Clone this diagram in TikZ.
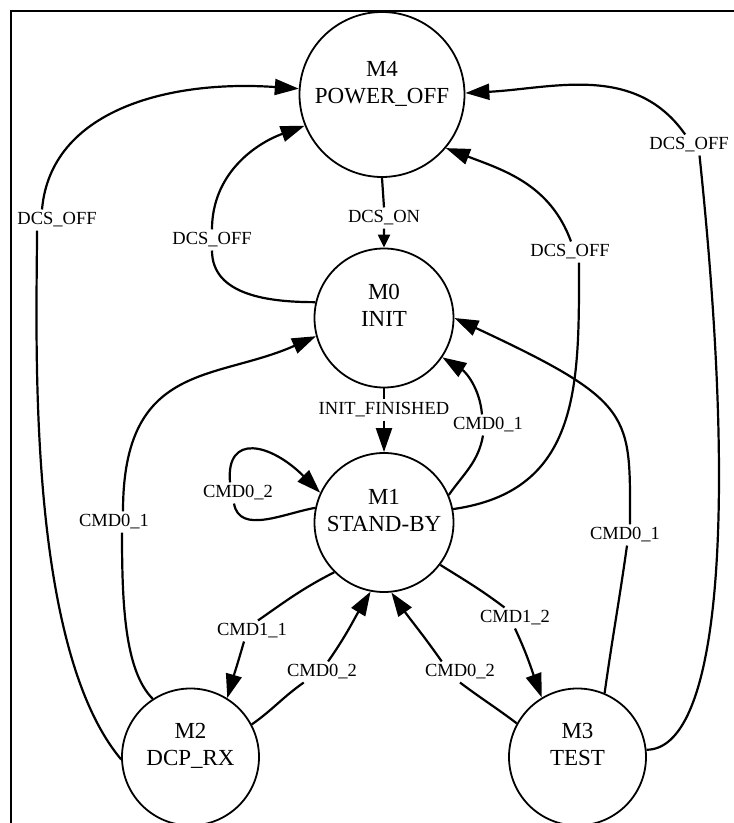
\documentclass[tikz,border=0pt]{standalone}
\usepackage{fontspec}
\setmainfont{Liberation Serif}
\usetikzlibrary{arrows.meta}
\newcommand{\modename}[2]{\raisebox{0pt}[40pt][22pt]{\begin{tabular}[b]{@{}c@{}}#1\\#2\end{tabular}}}

\begin{document}
\begin{tikzpicture}[x=1pt,y=1pt,
  mode/.style={circle,draw,line width=1.8pt,minimum size=139pt,inner sep=0pt,font=\fontsize{23}{27}\selectfont},
  trans/.style={inner sep=3pt,font=\fontsize{18.5}{22}\selectfont},
  edge/.style={line width=2.2pt,-{Triangle[length=24pt,width=16pt]}}]
\useasboundingbox (0,0) rectangle (734,823);

% Frame
\draw[line width=1.8pt] (11,0) -- (11,812) -- (734,812);

% Modes
\node[mode,minimum size=165pt] (m4) at (382,728.5) {\modename{M4}{POWER\_OFF}};
\node[mode] (m0) at (384,505) {\modename{M0}{INIT}};
\node[mode] (m1) at (384,300.5) {\modename{M1}{STAND-BY}};
\node[mode,minimum size=137pt] (m2) at (190.5,66) {\modename{M2}{DCP\_RX}};
\node[mode,minimum size=137pt] (m3) at (577.5,66) {\modename{M3}{TEST}};

% Transition labels
\node[trans] (dcson) at (384,605) {DCS\_ON};
\node[trans] (initfin) at (384,413) {INIT\_FINISHED};
\node[trans] (offa) at (212,583) {DCS\_OFF};
\node[trans] (offb) at (57,603) {DCS\_OFF};
\node[trans] (offc) at (570,571) {DCS\_OFF};
\node[trans] (offd) at (689,678) {DCS\_OFF};
\node[trans] (c01a) at (114,301) {CMD0\_1};
\node[trans] (c02s) at (238,330) {CMD0\_2};
\node[trans] (c11) at (252,192) {CMD1\_1};
\node[trans] (c02a) at (322,151) {CMD0\_2};
\node[trans] (c02b) at (460,151) {CMD0\_2};
\node[trans] (c12) at (515,205) {CMD1\_2};
\node[trans] (c01b) at (488,398) {CMD0\_1};
\node[trans] (c01c) at (625,288) {CMD0\_1};

% Main chain
\draw[line width=2.2pt,-{Triangle[length=13pt,width=12pt]}] (m4.south) -- (dcson.north) (dcson.south) -- (m0.north);
\draw[edge] (m0.south) -- (initfin.north) (initfin.south) -- (m1.north);

% Back to POWER_OFF
\draw[edge] (m0.167) to[out=180,in=-90] (offa.south) (offa.north) to[out=90,in=-160] (m4.-158);
\draw[edge] (m2.182) to[out=130,in=-90,out distance=150pt,in distance=100pt] ([xshift=-20pt]offb.south)
  ([xshift=-15pt]offb.north) to[out=85,in=176,out distance=100pt,in distance=130pt] (m4.176);
\draw[edge] (m1.11) to[out=8,in=-90,out distance=130pt,in distance=120pt] ([xshift=9pt]offc.south)
  ([xshift=1pt]offc.north) to[out=110,in=-21] (m4.-40);
\draw[edge] (m3.6) to[out=0,in=-84,out distance=70pt,in distance=380pt] (offd.-45)
  (offd.110) to[out=125,in=3] (m4.1);

% Back to INIT
\draw[edge] (m2.123) to[out=135,in=-90,out distance=40pt,in distance=70pt] ([xshift=8pt]c01a.south)
  ([xshift=9pt]c01a.north) to[out=90,in=-156,out distance=150pt,in distance=110pt] (m0.195);
\draw[edge] (m1.23) to[out=55,in=-100] ([xshift=-5pt]c01b.south) ([xshift=-6pt]c01b.north) to[out=95,in=-32] (m0.-34);
\draw[edge] (m3.67) to[out=82,in=-98] ([xshift=2pt]c01c.south)
  ([xshift=5pt]c01c.north) to[out=90,in=-25,out distance=110pt,in distance=200pt] (m0.0);

% STAND-BY loop and sub-modes
\draw[edge] (m1.168) to[out=190,in=-80] ([xshift=-4pt]c02s.south)
  ([xshift=-8pt]c02s.north) to[out=95,in=135,out distance=50pt,in distance=70pt] (m1.155);
\draw[edge] (m1.225) to[out=207,in=35] ([xshift=6pt]c11.north) ([xshift=-8pt]c11.south) to[out=-106,in=74] (m2.58);
\draw[edge] (m2.28) to[out=35,in=215] (c02a.-150) (c02a.60) to[out=55,in=-121] (m1.-101);
\draw[edge] (m3.151) to[out=143,in=-37] (c02b.south) (c02b.150) to[out=125,in=-55] (m1.-84);
\draw[edge] (m1.-37) to[out=-32,in=143] (c12.135) (c12.south) to[out=-65,in=110] (m3.121);
\end{tikzpicture}
\end{document}
